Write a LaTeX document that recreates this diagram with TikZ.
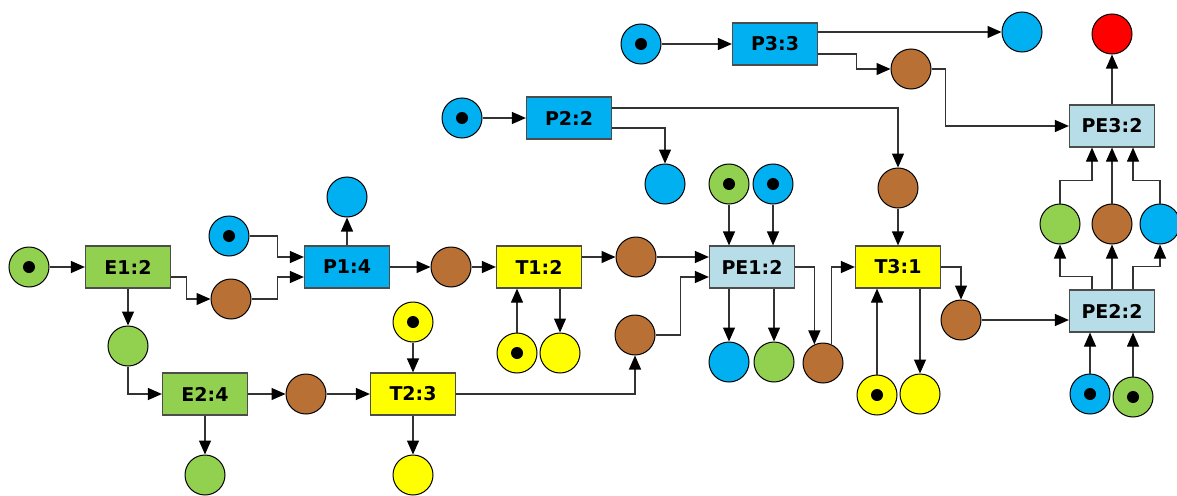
\documentclass[tikz,border=0pt]{standalone}
\usepackage{fontspec}
\setmainfont{DejaVu Sans}
\usetikzlibrary{arrows.meta}
\definecolor{pgreen}{HTML}{92D050}
\definecolor{pblue}{HTML}{00B0F0}
\definecolor{pbrown}{HTML}{B87035}
\definecolor{pyellow}{HTML}{FFFF00}
\definecolor{pred}{HTML}{FF0000}
\definecolor{plight}{HTML}{B7DEE8}
\begin{document}
\begin{tikzpicture}[x=1pt, y=-1pt,
                place/.style={draw, circle, minimum size=40pt, inner sep=0pt, line width=1pt},
                tok/.style={path picture={\fill[black] (path picture bounding box.center) circle (6pt);}},
                trans/.style={draw=black!70, line width=1.2pt, minimum width=85pt, minimum height=42pt, inner sep=0pt, font=\bfseries\fontsize{19}{22}\selectfont},
                arc/.style={-{Triangle[length=14pt, width=12pt, color=black]}, draw=black!80, line width=1.2pt}]
                \useasboundingbox (0,0) rectangle (1177,495);

                \node[place, fill=pgreen, tok] (g0) at (29,267) {};
                \node[trans, fill=pgreen] (E1) at (128,267) {E1:2};
                \node[place, fill=pbrown] (c1) at (231,299) {};
                \node[place, fill=pblue, tok] (b0) at (229,236) {};
                \node[trans, fill=pblue] (P1) at (347,267) {P1:4};
                \node[place, fill=pblue] (b1) at (347,197) {};
                \node[place, fill=pgreen] (g1) at (128,346) {};
                \node[trans, fill=pgreen] (E2) at (205,394) {E2:4};
                \node[place, fill=pgreen] (g2) at (205,475) {};
                \node[place, fill=pbrown] (c2) at (306,394) {};
                \node[place, fill=pyellow, tok] (y0) at (413,322) {};
                \node[trans, fill=pyellow] (T2) at (413,394) {T2:3};
                \node[place, fill=pyellow] (y1) at (413,475) {};
                \node[place, fill=pbrown] (c3) at (451,267) {};
                \node[trans, fill=pyellow] (T1) at (539,267) {T1:2};
                \node[place, fill=pyellow, tok] (y2) at (517,353) {};
                \node[place, fill=pyellow] (y3) at (560,353) {};
                \node[place, fill=pbrown] (c4) at (636,257) {};
                \node[place, fill=pbrown] (c5) at (635,335) {};
                \node[trans, fill=plight] (PE1) at (752,267) {PE1:2};
                \node[place, fill=pgreen, tok] (g3) at (729,184) {};
                \node[place, fill=pblue, tok] (b2) at (773,184) {};
                \node[place, fill=pblue] (b3) at (729,362) {};
                \node[place, fill=pgreen] (g4) at (774,362) {};
                \node[place, fill=pbrown] (c6) at (823,363) {};
                \node[place, fill=pblue, tok] (b4) at (462,118) {};
                \node[trans, fill=pblue] (P2) at (569,118) {P2:2};
                \node[place, fill=pblue] (b5) at (665,184) {};
                \node[place, fill=pblue, tok] (b6) at (641,44) {};
                \node[trans, fill=pblue] (P3) at (775,44) {P3:3};
                \node[place, fill=pblue] (b7) at (1022,32) {};
                \node[place, fill=pbrown] (c7) at (911,69) {};
                \node[place, fill=pred] (r0) at (1112,34) {};
                \node[trans, fill=plight] (PE3) at (1112,126) {PE3:2};
                \node[place, fill=pbrown] (c8) at (898,188) {};
                \node[trans, fill=pyellow] (T3) at (898,267) {T3:1};
                \node[place, fill=pbrown] (c9) at (961,320) {};
                \node[place, fill=pyellow, tok] (y4) at (877,395) {};
                \node[place, fill=pyellow] (y5) at (920,394) {};
                \node[trans, fill=plight] (PE2) at (1112,311) {PE2:2};
                \node[place, fill=pgreen] (g5) at (1060,224) {};
                \node[place, fill=pbrown] (c10) at (1112,224) {};
                \node[place, fill=pblue] (b8) at (1160,224) {};
                \node[place, fill=pblue, tok] (b9) at (1090,394) {};
                \node[place, fill=pgreen, tok] (g6) at (1133,397) {};

                \draw[arc] (g0) -- (E1);
                \draw[arc] ([yshift=-10pt]E1.east) -- ++(15,0) |- (c1.west);
                \draw[arc] (b0.east) -- ++(28,0) |- ([yshift=10pt]P1.west);
                \draw[arc] (c1.east) -- ++(26,0) |- ([yshift=-10pt]P1.west);
                \draw[arc] (P1) -- (b1);
                \draw[arc] (E1) -- (g1);
                \draw[arc] (g1.south) |- (E2.west);
                \draw[arc] (E2) -- (g2);
                \draw[arc] (E2) -- (c2);
                \draw[arc] (c2) -- (T2);
                \draw[arc] (y0) -- (T2);
                \draw[arc] (T2) -- (y1);
                \draw[arc] (T2.east) -| (c5.south);
                \draw[arc] (P1) -- (c3);
                \draw[arc] (c3) -- (T1);
                \draw[arc] (y2) -- (y2 |- T1.south);
                \draw[arc] (y3 |- T1.south) -- (y3);
                \draw[arc] ([yshift=10pt]T1.east) -- (c4);
                \draw[arc] (c4) -- ([yshift=10pt]PE1.west);
                \draw[arc] (c5.east) -- ++(25,0) |- ([yshift=-10pt]PE1.west);
                \draw[arc] (g3) -- (g3 |- PE1.north);
                \draw[arc] (b2) -- (b2 |- PE1.north);
                \draw[arc] (b3 |- PE1.south) -- (b3);
                \draw[arc] (g4 |- PE1.south) -- (g4);
                \draw[arc] (PE1.east) -| (c6.115);
                \draw[arc] (c6.65) |- (T3.west);
                \draw[arc] (b4) -- (P2);
                \draw[arc] ([yshift=10pt]P2.east) -| (c8.north);
                \draw[arc] ([yshift=-10pt]P2.east) -| (b5.north);
                \draw[arc] (c8) -- (T3);
                \draw[arc] (y4) -- (y4 |- T3.south);
                \draw[arc] (y5 |- T3.south) -- (y5);
                \draw[arc] (T3.east) -| (c9.north);
                \draw[arc] (c9) -- (c9 -| PE2.west);
                \draw[arc] (b6) -- (P3);
                \draw[arc] ([yshift=12pt]P3.east) -- (b7.west);
                \draw[arc] ([yshift=-10pt]P3.east) -- ++(38,0) |- (c7.west);
                \draw[arc] (c7.east) -- ++(14,0) |- (PE3.west);
                \draw[arc] (PE3) -- (r0);
                \draw[arc] (g5.north) -- ++(0,-23) -| ([xshift=-20pt]PE3.south);
                \draw[arc] (c10) -- (PE3);
                \draw[arc] (b8.north) -- ++(0,-23) -| ([xshift=21pt]PE3.south);
                \draw[arc] ([xshift=-20pt]PE2.north) -- ++(0,-13) -| (g5.south);
                \draw[arc] (PE2) -- (c10);
                \draw[arc] ([xshift=21pt]PE2.north) -- ++(0,-23) -| (b8.south);
                \draw[arc] (b9) -- (b9 |- PE2.south);
                \draw[arc] (g6) -- (g6 |- PE2.south);
            \end{tikzpicture}
\end{document}
